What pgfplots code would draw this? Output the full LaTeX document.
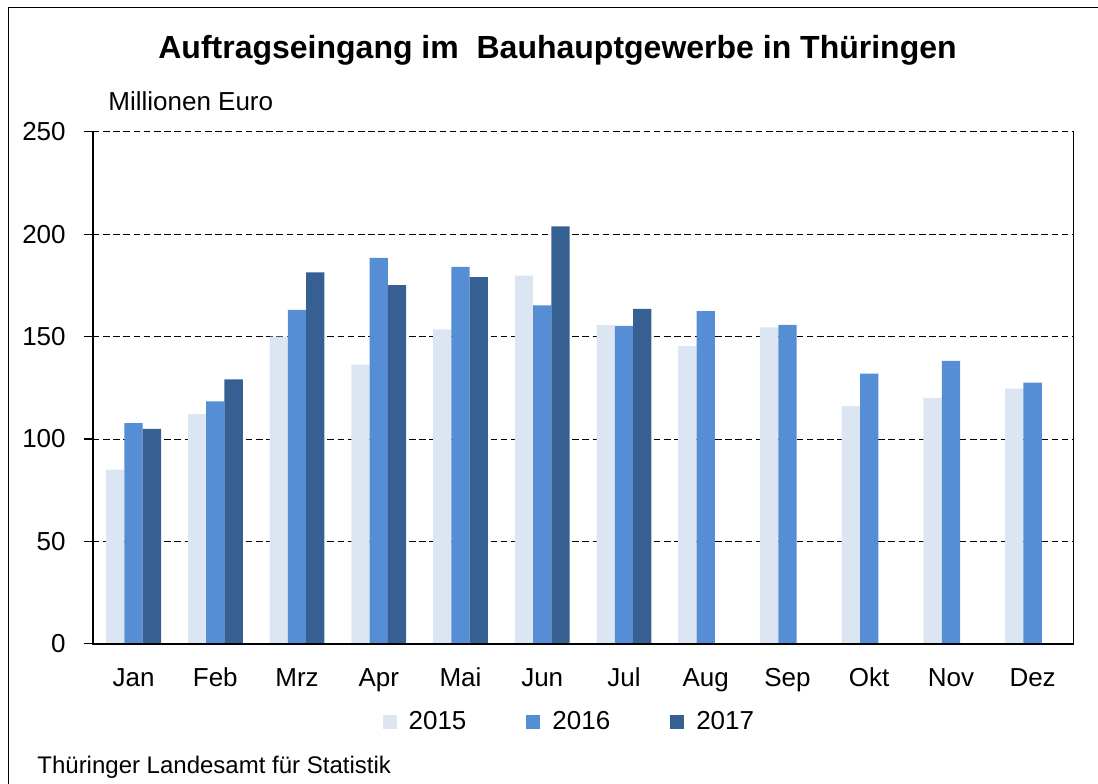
\documentclass[border=0pt]{standalone}
\usepackage{fontspec}
\setmainfont{Liberation Sans}
\usepackage{pgfplots}
\pgfplotsset{compat=1.18}
\definecolor{cA}{HTML}{DCE6F2}
\definecolor{cB}{HTML}{558ED5}
\definecolor{cC}{HTML}{376092}
\begin{document}
\begin{tikzpicture}
\useasboundingbox (0,0) rectangle (549pt,-391.5pt);
\draw[line width=0.6pt] (4.1pt,-600pt) -- (4.1pt,-3.6pt) -- (700pt,-3.6pt);
\node[anchor=base, font=\fontsize{16}{19}\selectfont\bfseries] at (278.75pt,-29pt) {Auftragseingang im\ \ Bauhauptgewerbe in Thüringen};
\node[anchor=base west, inner sep=0pt, font=\fontsize{13}{15}\selectfont] at (54pt,-55pt) {Millionen Euro};
\node[anchor=base west, inner sep=0pt, font=\fontsize{12}{14}\selectfont] at (18.5pt,-386.5pt) {Thüringer Landesamt für Statistik};
\begin{axis}[
  at={(46.35pt,-321.9pt)}, anchor=south west,
  width=490.4pt, height=256pt, scale only axis,
  clip=false,
  xmin=-0.5, xmax=11.5, ymin=0, ymax=250,
  ytick={0,50,100,150,200,250},
  xtick={0,...,11},
  xticklabels={Jan,Feb,Mrz,Apr,Mai,Jun,Jul,Aug,Sep,Okt,Nov,Dez},
  /pgf/number format/assume math mode=true,
  tick label style={font=\fontsize{13}{15}\selectfont},
  x tick style={draw=none},
  y tick style={black, line width=0.6pt},
  ytick pos=left, tick align=outside, major tick length=4.5pt,
  xticklabel style={anchor=base, yshift=-17pt},
  yticklabel style={anchor=east, xshift=-5.5pt},
  axis line style={draw=none},
  ymajorgrids,
  grid style={black, line width=0.5pt, dash pattern=on 3.3pt off 1.8pt},
  ybar, bar width=0.224,
  legend style={at={(0.487,-0.153)}, anchor=center, draw=none, fill=none,
    legend columns=3, font=\fontsize{13}{15}\selectfont,
    /tikz/every even column/.append style={column sep=28pt},
    /tikz/every odd column/.append style={column sep=4pt}},
  legend image code/.code={\fill[#1] (0pt,-3.5pt) rectangle (7pt,3.5pt);},
]
\addplot[fill=cA, draw=none, bar shift=-0.224] coordinates {(0,85) (1,112.2) (2,150) (3,136.3) (4,153.5) (5,179.8) (6,155.7) (7,145.3) (8,154.5) (9,116.1) (10,120) (11,124.6)};
\addplot[fill=cB, draw=none, bar shift=0] coordinates {(0,107.7) (1,118.4) (2,163) (3,188.4) (4,184) (5,165.3) (6,155.3) (7,162.5) (8,155.7) (9,131.9) (10,138.2) (11,127.5)};
\addplot[fill=cC, draw=none, bar shift=0.224] coordinates {(0,105) (1,129.1) (2,181.4) (3,175.2) (4,179) (5,203.8) (6,163.6)};
\legend{2015,2016,2017}
\draw[black, line width=0.8pt] (rel axis cs:0,1) |- (rel axis cs:1,0) -- (rel axis cs:1,1);
\end{axis}
\end{tikzpicture}
\end{document}
